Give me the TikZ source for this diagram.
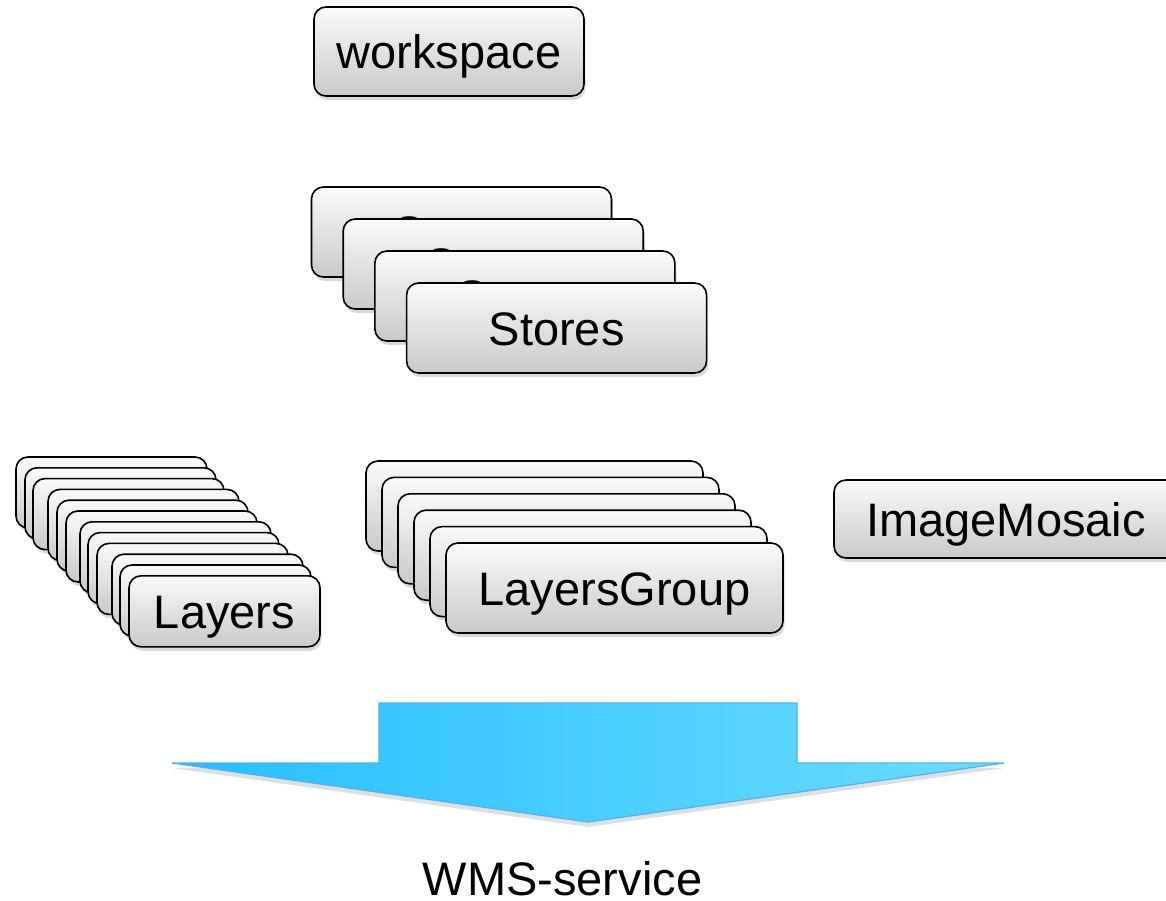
\documentclass[tikz,border=0pt]{standalone}
\usepackage{fontspec}
\setmainfont{Liberation Sans}
\usetikzlibrary{shadows}
\definecolor{arrowleft}{RGB}{38,190,255}
\definecolor{arrowright}{RGB}{108,221,255}
\definecolor{arrowline}{RGB}{70,180,245}
\tikzstyle{box} = [rectangle, draw, line width=0.8pt, rounded corners=6pt,
    top color=gray!4, bottom color=gray!42, inner sep=0pt,
    drop shadow={shadow xshift=0.8pt, shadow yshift=-2pt, opacity=0.3},
    font=\fontsize{23.5}{28}\selectfont, text height=20pt, text depth=3pt]
\tikzstyle{wsbox} = [box, minimum width=135pt, minimum height=44.5pt]
\tikzstyle{storebox} = [box, minimum width=150pt, minimum height=45pt]
\tikzstyle{layerbox} = [box, minimum width=95.5pt, minimum height=35.5pt]
\tikzstyle{groupbox} = [box, minimum width=168.5pt, minimum height=45pt]
\tikzstyle{mosaicbox} = [box, minimum width=172pt, minimum height=39pt]
\tikzstyle{label} = [font=\fontsize{23.5}{28}\selectfont, inner sep=0pt,
    text depth=0pt, anchor=base]
\begin{document}
\begin{tikzpicture}[x=0.5pt, y=-0.5pt]
    \useasboundingbox (0,0) rectangle (1166,900);

    % Place nodes
    \node [wsbox] (ws) at (449,51.5) {workspace};

    % Stores
    \foreach \i in {1,...,4}
        \node [storebox] (store\i) at ({429.8+31.7*\i},{200+32*\i}) {Stores};

    % Layers
    \foreach \lx [count=\i] in {16,25,33,48,57,66,80,88,97,112,120}
        \node [layerbox] (layer\i) at ({\lx+95.5},{481.7+10.8*\i}) {};
    \node [layerbox] (layer12) at (224.5,611.3) {Layers};

    % Layers group
    \foreach \i in {1,...,5}
        \node [groupbox] (group\i) at ({518.5+16*\i},{489.6+16.4*\i}) {};
    \node [groupbox] (group6) at (614.5,588) {LayersGroup};

    \node [mosaicbox] (mosaic) at (1006,519) {ImageMosaic};

    % Big arrow
    \path [draw=arrowline, line width=0.6pt, left color=arrowleft, right color=arrowright,
        drop shadow={shadow xshift=0pt, shadow yshift=-2.5pt, opacity=0.25}]
        (379,703) -- (797,703) -- (797,763) -- (1004,763) -- (588,822)
        -- (172,763) -- (379,763) -- cycle;

    \node [label] (wms) at (562.5,895) {WMS-service};

\end{tikzpicture}
\end{document}
